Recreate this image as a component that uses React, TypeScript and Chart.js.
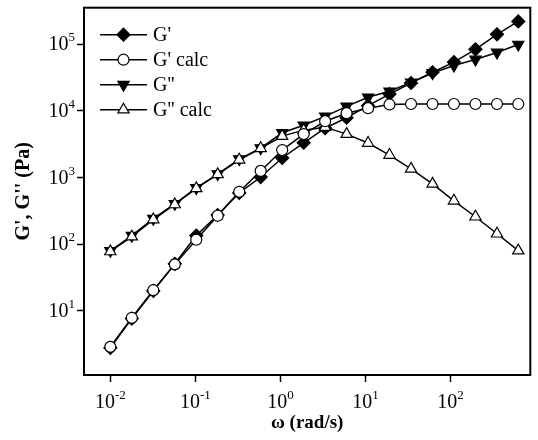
import React, { useEffect, useRef } from 'react';
import { Chart, registerables } from 'chart.js';
import { drawPoint } from 'chart.js/helpers';

Chart.register(...registerables);

// angular frequency (rad/s)
const omega = [0.01, 0.0179, 0.032, 0.0573, 0.1025, 0.183, 0.328, 0.587, 1.05, 1.88, 3.36, 6.01, 10.75, 19.2, 34.4, 61.6, 110, 197, 353, 628];
// storage modulus G' (Pa)
const gPrime = [2.8, 7.7, 20, 51, 135, 275, 590, 1020, 1970, 3330, 5500, 7900, 12000, 17900, 26200, 38000, 54000, 84000, 141000, 220000];
// calculated G' (Pa)
const gPrimeCalc = [2.9, 7.9, 20.5, 50, 117, 268, 612, 1260, 2590, 4500, 7000, 9250, 11000, 12500, 12700, 12700, 12700, 12700, 12700, 12700];
// loss modulus G'' (Pa)
const gDouble = [80, 135, 242, 405, 700, 1130, 1900, 2770, 4700, 6100, 8300, 11700, 16000, 19700, 26800, 37100, 48100, 59100, 75300, 99000];
// calculated G'' (Pa)
const gDoubleCalc = [78, 130, 235, 395, 690, 1120, 1850, 2750, 4190, 5150, 5710, 4490, 3300, 2180, 1350, 805, 449, 259, 144, 80.5];

const seriesLabels = ["G'", "G' calc", "G''", "G'' calc"];
const xTickValues = [0.01, 0.1, 1, 10, 100];
const xTickExponents = ['-2', '-1', '0', '1', '2'];
const yTickValues = [10, 100, 1000, 10000, 100000];
const yTickExponents = ['1', '2', '3', '4', '5'];
const xTitle = 'ω (rad/s)';
const yTitle = "G', G'' (Pa)";

const SERIF = '"Liberation Serif", "Times New Roman", serif';

const framePlugin = {
  id: 'frame',
  afterDatasetsDraw(chart: any) {
    const { ctx, chartArea: a } = chart;
    ctx.save();
    ctx.strokeStyle = '#000';
    ctx.lineWidth = 2;
    ctx.strokeRect(a.left, a.top, a.right - a.left, a.bottom - a.top);
    ctx.restore();
  },
};

const tickLabelPlugin = {
  id: 'supTicks',
  afterDraw(chart: any) {
    const ctx = chart.ctx;
    const xs = chart.scales.x;
    const ys = chart.scales.y;
    const base = `20px ${SERIF}`;
    const sup = `13px ${SERIF}`;
    ctx.save();
    ctx.fillStyle = '#000';
    ctx.textAlign = 'left';
    ctx.textBaseline = 'alphabetic';
    xTickValues.forEach((v, i) => {
      const px = xs.getPixelForValue(v);
      ctx.font = base;
      const w1 = ctx.measureText('10').width;
      ctx.font = sup;
      const w2 = ctx.measureText(xTickExponents[i]).width;
      const x0 = px - (w1 + w2) / 2;
      ctx.font = base;
      ctx.fillText('10', x0, xs.top + 33);
      ctx.font = sup;
      ctx.fillText(xTickExponents[i], x0 + w1, xs.top + 24);
    });
    yTickValues.forEach((v, i) => {
      const py = ys.getPixelForValue(v);
      ctx.font = sup;
      const w2 = ctx.measureText(yTickExponents[i]).width;
      ctx.font = base;
      const w1 = ctx.measureText('10').width;
      const xr = ys.right - 9;
      ctx.fillText('10', xr - w2 - w1, py + 6);
      ctx.font = sup;
      ctx.fillText(yTickExponents[i], xr - w2, py - 3);
    });
    ctx.restore();
  },
};

const legendPlugin = {
  id: 'insideLegend',
  afterDatasetsDraw(chart: any) {
    const { ctx, chartArea: a } = chart;
    ctx.save();
    chart.data.datasets.forEach((ds: any, k: number) => {
      const y = a.top + 27 + 25 * k;
      ctx.strokeStyle = ds.borderColor;
      ctx.lineWidth = ds.borderWidth;
      ctx.beginPath();
      ctx.moveTo(a.left + 16, y);
      ctx.lineTo(a.left + 63, y);
      ctx.stroke();
      ctx.fillStyle = ds.pointBackgroundColor;
      ctx.strokeStyle = ds.pointBorderColor;
      ctx.lineWidth = ds.pointBorderWidth;
      drawPoint(ctx, { pointStyle: ds.pointStyle, rotation: ds.pointRotation || 0, radius: ds.pointRadius, borderWidth: ds.pointBorderWidth }, a.left + 39.5, y);
      ctx.fillStyle = '#000';
      ctx.font = `20px ${SERIF}`;
      ctx.textAlign = 'left';
      ctx.textBaseline = 'middle';
      ctx.fillText(ds.label, a.left + 69, y + 1);
    });
    ctx.restore();
  },
};

const toPoints = (ys: number[]) => omega.map((x, i) => ({ x, y: ys[i] }));

export default function App() {
  const ref = useRef<HTMLCanvasElement | null>(null);
  useEffect(() => {
    if (!ref.current) return;
    const common = { showLine: true, borderColor: '#000', borderWidth: 1.5, pointBorderColor: '#000', pointBorderWidth: 1.2 };
    const chart = new Chart(ref.current, {
      type: 'scatter',
      data: {
        datasets: [
          { ...common, label: seriesLabels[0], data: toPoints(gPrime), pointStyle: 'rectRot', pointRadius: 6.5, pointBackgroundColor: '#000', order: 1 },
          { ...common, label: seriesLabels[1], data: toPoints(gPrimeCalc), pointStyle: 'circle', pointRadius: 5.5, pointBackgroundColor: '#fff', order: 0 },
          { ...common, label: seriesLabels[2], data: toPoints(gDouble), pointStyle: 'triangle', pointRotation: 180, pointRadius: 6.5, pointBackgroundColor: '#000', order: 1 },
          { ...common, label: seriesLabels[3], data: toPoints(gDoubleCalc), pointStyle: 'triangle', pointRadius: 6.5, pointBackgroundColor: '#fff', order: 0 },
        ] as any,
      },
      options: {
        animation: false,
        responsive: false,
        layout: { padding: { top: 6, right: 1, left: 0, bottom: 0 } },
        plugins: { legend: { display: false }, tooltip: { enabled: false } },
        scales: {
          x: {
            type: 'logarithmic',
            position: 'bottom',
            min: 0.0049,
            max: 870,
            afterBuildTicks: (s: any) => { s.ticks = xTickValues.map((v) => ({ value: v })); },
            afterFit: (s: any) => { s.height = 65; },
            grid: { display: true, drawOnChartArea: false, drawTicks: true, tickLength: 7, tickWidth: 1.5, tickColor: '#000', color: '#000' },
            border: { display: false },
            ticks: { display: false },
            title: { display: true, text: xTitle, color: '#000', font: { family: SERIF, size: 19, weight: 'bold' }, padding: { top: 0, bottom: 6 } },
          },
          y: {
            type: 'logarithmic',
            position: 'left',
            min: 1.097,
            max: 353000,
            afterBuildTicks: (s: any) => { s.ticks = yTickValues.map((v) => ({ value: v })); },
            afterFit: (s: any) => { s.width = 84; },
            grid: { display: true, drawOnChartArea: false, drawTicks: true, tickLength: 7, tickWidth: 1.5, tickColor: '#000', color: '#000' },
            border: { display: false },
            ticks: { display: false },
            title: { display: true, text: yTitle, color: '#000', font: { family: SERIF, size: 20, weight: 'bold' }, padding: { top: 12, bottom: 0 } },
          },
        },
      } as any,
      plugins: [framePlugin, tickLabelPlugin, legendPlugin],
    });
    return () => chart.destroy();
  }, []);
  return (
    <div style={{ position: 'absolute', left: 0, top: 0, width: 538, height: 440, background: '#fff' }}>
      <canvas ref={ref} width={538} height={440} style={{ display: 'block' }} />
    </div>
  );
}
